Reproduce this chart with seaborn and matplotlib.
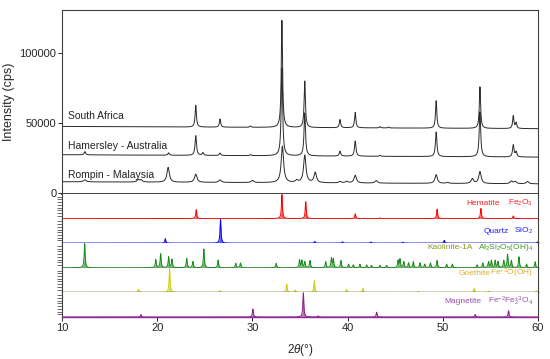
import numpy as np
import pandas as pd
import matplotlib
matplotlib.use("Agg")
import matplotlib.pyplot as plt
import seaborn as sns

# measured XRD patterns: baseline (at 10 and 60 deg) and peaks (2theta, counts above baseline)
samples = ["South Africa", "Hamersley - Australia", "Rompin - Malaysia"]

sa_base = [47600, 46000]
sa_pos = [24.05, 26.6, 29.8, 33.1, 35.5, 39.2, 40.8, 43.4, 44.3, 49.3, 53.9, 57.4, 57.7]
sa_int = [15500, 5800, 900, 76000, 33000, 5800, 11000, 900, 600, 19500, 29500, 9000, 4000]

ham_base = [27500, 25800]
ham_pos = [12.4, 21.2, 24.05, 24.8, 26.6, 29.8, 33.1, 35.5, 39.2, 40.8, 43.4, 49.3, 53.9, 57.4, 57.7]
ham_int = [2300, 1700, 14000, 1900, 1700, 700, 62500, 30500, 3500, 10800, 700, 17500, 32000, 8500, 3500]

rom_base = [8300, 6800]
rom_pos = [12.4, 18.0, 18.3, 21.15, 24.05, 26.6, 30.0, 33.15, 34.65, 35.5, 36.6, 39.2, 39.9,
           40.8, 43.0, 49.3, 50.5, 53.1, 53.9, 57.2, 57.6, 58.9]
rom_int = [1500, 1600, 1500, 10500, 5800, 1800, 1500, 26000, 1500, 19500, 7300, 1000, 1100,
           5500, 1800, 6200, 700, 3400, 8500, 1800, 1600, 1700]

sample_label_y = [54900, 33700, 13200]

# reference stick patterns (relative intensity)
ref_names = ["Hematite", "Quartz", "Kaolinite-1A", "Goethite", "Magnetite"]
ref_formulas = ["Fe$_2$O$_3$", "SiO$_2$", "Al$_2$Si$_2$O$_5$(OH)$_4$",
                "Fe$^{+3}$O(OH)", "Fe$^{+2}$Fe$^{+3}_{2}$O$_4$"]

hem_pos = [24.1, 33.1, 35.6, 40.8, 43.4, 49.4, 54.0, 57.4]
hem_int = [0.37, 1.0, 0.70, 0.20, 0.03, 0.39, 0.42, 0.11]

qtz_pos = [20.85, 26.65, 36.55, 39.45, 42.45, 45.8, 50.15, 59.95]
qtz_int = [0.19, 1.0, 0.07, 0.06, 0.05, 0.04, 0.12, 0.05]

kao_pos = [12.38, 19.85, 20.36, 21.2, 21.55, 23.1, 23.75, 24.9, 26.4, 28.25, 28.75, 32.5,
           34.95, 35.2, 35.5, 36.05, 37.7, 38.3, 38.5, 39.3, 40.1, 40.6, 41.3, 42.0, 42.5,
           43.4, 44.1, 45.3, 45.5, 45.9, 46.4, 46.9, 47.6, 48.1, 48.7, 49.4, 50.4, 51.0,
           53.6, 54.2, 54.8, 55.1, 55.5, 55.8, 56.4, 56.8, 57.2, 58.0, 58.8, 59.7]
kao_int = [1.0, 0.34, 0.58, 0.45, 0.35, 0.39, 0.26, 0.78, 0.32, 0.19, 0.20, 0.19,
           0.32, 0.30, 0.25, 0.30, 0.25, 0.40, 0.35, 0.30, 0.15, 0.12, 0.15, 0.12, 0.10,
           0.10, 0.10, 0.30, 0.35, 0.25, 0.20, 0.25, 0.20, 0.15, 0.20, 0.30, 0.15, 0.15,
           0.12, 0.20, 0.25, 0.30, 0.30, 0.25, 0.30, 0.55, 0.30, 0.45, 0.15, 0.25]

gth_pos = [18.05, 21.3, 26.6, 33.6, 34.5, 36.5, 39.9, 41.6, 47.4, 53.3, 54.8, 59.8]
gth_int = [0.13, 1.0, 0.07, 0.35, 0.10, 0.48, 0.12, 0.16, 0.04, 0.16, 0.05, 0.06]

mag_pos = [18.3, 30.05, 35.35, 36.9, 43.05, 53.4, 56.9]
mag_int = [0.10, 0.33, 1.0, 0.05, 0.20, 0.10, 0.26]

ref_colors = ["#ff0000", "#0000ff", "#1a8a1a", "#cccc10", "#8a1a8a"]
text_colors = ["#ff2020", "#2020ff", "#3a9a1a", "#d8b030", "#9a50b0"]
name_colors = ["#ff2020", "#2020ff", "#8a9a10", "#d8b030", "#9a50b0"]
edge_colors = ["#c03030", "#1a1ab0", "#2e5e2e", "#303030", "#8a2a8a"]
name_x = [0.92, 0.939, 0.864, 0.90, 0.88]
label_y = [0.63, 0.49, 0.81, 0.78, 0.63]


def profile(x, pos, inten, hw):
    y = np.zeros_like(x)
    for p, h in zip(pos, inten):
        y += h / (1 + ((x - p) / hw) ** 2)
    return y


tt = np.linspace(10, 60, 5001)

plt.rcParams["mathtext.fontset"] = "custom"
plt.rcParams["mathtext.rm"] = "Liberation Sans"
plt.rcParams["mathtext.it"] = "Liberation Sans:italic"
sns.set_style("ticks")
plt.rcParams["font.family"] = ["Liberation Sans", "DejaVu Sans"]

fig = plt.figure(figsize=(5.5, 3.59), dpi=100)
left, width = 0.1127, 0.8655
top_ax = fig.add_axes([left, 0.4596, width, 0.5125])

frames = []
for name, base, pos, inten, hw in [
    (samples[0], sa_base, sa_pos, sa_int, 0.08),
    (samples[1], ham_base, ham_pos, ham_int, 0.09),
    (samples[2], rom_base, rom_pos, rom_int, 0.15),
]:
    y = np.interp(tt, [10, 60], base) + profile(tt, pos, inten, hw)
    frames.append(pd.DataFrame({"2theta": tt, "intensity": y, "sample": name}))
df = pd.concat(frames, ignore_index=True)

sns.lineplot(data=df, x="2theta", y="intensity", hue="sample", units="sample",
             estimator=None, palette=["#2a2a2a"] * 3, linewidth=0.7, legend=False, ax=top_ax)
for name, ly in zip(samples, sample_label_y):
    top_ax.text(10.6, ly, name, fontsize=7.5, va="center", ha="left", color="#222222")

top_ax.set_xlim(10, 60)
top_ax.set_ylim(-400, 130300)
top_ax.set_yticks([0, 50000, 100000])
top_ax.set_ylabel("Intensity (cps)", fontsize=9, labelpad=3)
top_ax.set_xlabel("")
top_ax.tick_params(axis="y", labelsize=8, length=3, width=0.7, pad=1)
top_ax.tick_params(axis="x", bottom=False, labelbottom=False)
for s in top_ax.spines.values():
    s.set_color("#404040")
    s.set_linewidth(0.8)
top_ax.spines["bottom"].set_linewidth(1.3)
top_ax.spines["bottom"].set_color("#333333")

refs = [(hem_pos, hem_int), (qtz_pos, qtz_int), (kao_pos, kao_int), (gth_pos, gth_int), (mag_pos, mag_int)]
h = (0.4596 - 0.117) / 5
for i, (pos, inten) in enumerate(refs):
    ax = fig.add_axes([left, 0.4596 - (i + 1) * h, width, h])
    y = profile(tt, pos, inten, 0.06) * 0.98
    ax.plot(tt, y, color=ref_colors[i], lw=0.7)
    ax.fill_between(tt, 0, y, color=ref_colors[i], alpha=0.6, lw=0)
    ax.set_xlim(10, 60)
    ax.set_ylim(0, 1.0)
    ax.set_yticks(np.linspace(0, 1, 10)[1:-1])
    ax.set_yticklabels([])
    ax.tick_params(axis="y", length=3.5, width=0.6, color="#555555")
    ax.spines["top"].set_visible(False)
    for s in ["left", "right"]:
        ax.spines[s].set_color("#404040")
        ax.spines[s].set_linewidth(0.8)
    ax.spines["bottom"].set_color(edge_colors[i])
    ax.spines["bottom"].set_linewidth(1.0)
    ax.text(0.99, label_y[i], ref_formulas[i], transform=ax.transAxes, fontsize=6,
            ha="right", va="center", color=text_colors[i])
    ax.text(name_x[i], label_y[i], ref_names[i], transform=ax.transAxes, fontsize=6,
            ha="right", va="center", color=name_colors[i])
    if i < 4:
        ax.tick_params(axis="x", bottom=False, labelbottom=False)
    else:
        ax.set_xticks([10, 20, 30, 40, 50, 60])
        ax.tick_params(axis="x", labelsize=8, length=3, width=0.7, pad=1.5)
        ax.set_xlabel(r"2$\it{\theta}$(°)", fontsize=8.5, labelpad=6)

fig.savefig("out.png", dpi=100)
